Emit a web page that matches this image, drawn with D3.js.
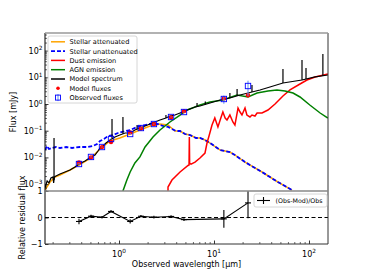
<!DOCTYPE html>
<html>
<head>
<meta charset="utf-8">
<script src="https://cdn.jsdelivr.net/npm/d3@7"></script>
<style>
  body { margin: 0; background: #fff; }
  text { font-family: "DejaVu Sans", sans-serif; fill: #000; }
</style>
</head>
<body>
<div id="chart"></div>
<script>
// ---- data (wavelength in micron, flux in mJy) ----
var specWl   = [0.166, 0.175, 0.183, 0.192, 0.202, 0.205, 0.209, 0.217, 0.239, 0.27, 0.305, 0.344, 0.379, 0.439, 0.507, 0.559, 0.601, 0.631, 0.662, 0.730, 0.804, 0.908, 1.02, 1.16, 1.31, 1.47, 1.66, 1.88, 2.12, 2.39, 2.70, 3.12, 3.44, 3.88, 4.39, 4.95, 5.59, 6.31, 7.12, 9.08, 11.6, 14.7, 18.8, 22.8, 30.5, 38.8, 53.2, 84.4, 116, 158];
var specFlux = [0.000714, 0.00131, 0.0011, 0.00169, 0.00185, 0.0011, 0.00185, 0.00201, 0.00239, 0.00284, 0.00337, 0.00437, 0.00566, 0.0073, 0.0104, 0.0123, 0.0174, 0.0225, 0.0245, 0.0346, 0.0449, 0.058, 0.069, 0.082, 0.082, 0.106, 0.126, 0.150, 0.178, 0.212, 0.252, 0.299, 0.355, 0.387, 0.46, 0.547, 0.65, 0.773, 0.841, 1.09, 1.41, 1.68, 2.17, 2.58, 3.35, 4.33, 6.12, 7.9, 10.3, 12.2];
// emission lines on the model spectrum: wavelength and peak flux
var lineWl   = [0.207, 0.844, 1.10, 1.55, 3.12, 6.63, 8.1, 14.7, 17.5, 25.1, 53.2, 84.4, 93.0, 140];
var linePeak = [0.0533, 0.274, 0.326, 0.163, 0.387, 1.09, 1.25, 2.58, 3.65, 5.15, 20.5, 44.5, 22.3, 74.6];

var attWl    = [0.166, 0.188, 0.212, 0.239, 0.305, 0.379, 0.507, 0.631, 0.804, 1.02, 1.31, 1.66, 2.12, 2.70, 3.28, 3.88, 4.39, 4.95, 5.59, 6.47, 7.12, 8.04, 9.08, 11.6, 14.7, 16.6, 21.2, 32.0, 47.0, 66.2];
var attFlux  = [0.000600, 0.0012, 0.00185, 0.00219, 0.00337, 0.00519, 0.0095, 0.0206, 0.0411, 0.0533, 0.0752, 0.106, 0.150, 0.178, 0.163, 0.0975, 0.0975, 0.0752, 0.069, 0.0533, 0.0533, 0.0449, 0.0346, 0.0189, 0.0159, 0.0123, 0.0067, 0.00284, 0.0012, 0.000600];

var unattWl   = [0.166, 0.175, 0.183, 0.197, 0.217, 0.239, 0.277, 0.320, 0.388, 0.472, 0.532, 0.587, 0.631, 0.695, 0.766, 0.865, 0.976, 1.16, 1.31, 1.55, 1.88, 2.28, 2.57, 2.90, 3.28, 3.61, 3.98, 4.39, 4.95, 5.59, 6.47, 7.12, 8.04, 9.08, 11.6, 14.7, 16.6, 21.2, 32.0, 47.0, 66.2];
var unattFlux = [0.0189, 0.0267, 0.0206, 0.0225, 0.0245, 0.0225, 0.0245, 0.0225, 0.0245, 0.0245, 0.0267, 0.0318, 0.0411, 0.0489, 0.0633, 0.069, 0.082, 0.0975, 0.106, 0.138, 0.163, 0.194, 0.178, 0.150, 0.138, 0.116, 0.0975, 0.0975, 0.0752, 0.069, 0.0533, 0.0533, 0.0449, 0.0346, 0.0189, 0.0159, 0.0123, 0.0067, 0.00284, 0.0012, 0.000600];

var dustWl   = [3.28, 3.28, 3.61, 4.39, 5.33, 5.46, 5.50, 5.54, 5.73, 6.31, 7.12, 8.04, 8.44, 8.86, 9.53, 10.2, 11.0, 11.8, 12.4, 13.1, 13.7, 14.7, 15.8, 16.6, 17.9, 18.8, 19.7, 21.2, 22.2, 23.9, 25.1, 27.0, 28.4, 32.0, 37.0, 43.9, 53.2, 63.1, 80.4, 95.2, 116, 158];
var dustFlux = [0.00039, 0.000778, 0.00142, 0.00284, 0.00500, 0.00519, 0.058, 0.00600, 0.00560, 0.0067, 0.0095, 0.0146, 0.0346, 0.0633, 0.163, 0.299, 0.138, 0.299, 0.501, 0.299, 0.252, 0.387, 0.212, 0.163, 0.708, 0.501, 0.387, 0.708, 0.387, 0.326, 0.387, 0.355, 0.46, 0.46, 0.596, 1.0, 1.99, 3.35, 5.61, 7.9, 10.3, 13.3];

var agnWl    = [1.08, 1.10, 1.21, 1.31, 1.47, 1.66, 1.88, 2.28, 2.70, 3.44, 4.39, 5.20, 6.31, 7.12, 9.08, 12.4, 17.5, 22.8, 28.4, 37.0, 46.0, 55.9, 67.9, 80.4, 102, 131, 158];
var agnFlux  = [0.0004, 0.000552, 0.00142, 0.00284, 0.00617, 0.0104, 0.0245, 0.058, 0.106, 0.212, 0.387, 0.596, 0.773, 0.918, 1.19, 1.41, 2.17, 1.83, 2.58, 3.07, 3.35, 3.07, 2.58, 1.83, 0.918, 0.46, 0.299];

// photometry
var obsWl    = [0.379, 0.507, 0.662, 0.824, 1.31, 1.70, 2.33, 3.53, 4.83, 12.7, 22.8];
var obsFlux  = [0.00566, 0.0104, 0.0245, 0.0489, 0.0752, 0.126, 0.178, 0.326, 0.501, 1.54, 4.72];
var obsErr   = [0.0006, 0.0006, 0.0012, 0.0025, 0.006, 0.006, 0.009, 0.016, 0.025, 0.52, 2.74];
var modFlux  = [0.00651, 0.00988, 0.0243, 0.0377, 0.0865, 0.120, 0.176, 0.313, 0.541, 1.62, 2.12];

var legendLabels = ["Stellar attenuated", "Stellar unattenuated", "Dust emission", "AGN emission", "Model spectrum", "Model fluxes", "Observed fluxes"];
var xTicks = [1, 10, 100];
var yTicks = [1e-3, 1e-2, 1e-1, 1, 10, 100];
var rTicks = [-1, 0, 1];

// ---- layout ----
var W = 365, H = 274;
var L = 45, R = 328, T = 33, MB = 191, RB = 244;

var svg = d3.select("#chart").append("svg")
    .attr("width", W).attr("height", H);

var x = d3.scaleLog().domain([0.1663, 158.5]).range([L, R]);
var y = d3.scaleLog().domain([0.000552, 456]).range([MB, T]);
var yr = d3.scaleLinear().domain([-1, 1]).range([RB, MB]);

svg.append("clipPath").attr("id", "cm").append("rect")
    .attr("x", L).attr("y", T).attr("width", R - L).attr("height", MB - T);
svg.append("clipPath").attr("id", "cr").append("rect")
    .attr("x", L).attr("y", MB).attr("width", R - L).attr("height", RB - MB);

var zip = function (a, b) { return a.map(function (v, i) { return [v, b[i]]; }); };
var line = d3.line().x(function (d) { return x(d[0]); }).y(function (d) { return y(d[1]); });

// continuum value under an emission line (log interpolation of the spectrum)
function contAt(w) {
    for (var i = 1; i < specWl.length; i++) {
        if (specWl[i] >= w) {
            var t = (Math.log(w) - Math.log(specWl[i - 1])) / (Math.log(specWl[i]) - Math.log(specWl[i - 1]));
            return Math.exp(Math.log(specFlux[i - 1]) + t * (Math.log(specFlux[i]) - Math.log(specFlux[i - 1])));
        }
    }
    return specFlux[specFlux.length - 1];
}

var gm = svg.append("g").attr("clip-path", "url(#cm)");

gm.append("path").datum(zip(attWl, attFlux))
    .attr("d", line).attr("fill", "none").attr("stroke", "orange").attr("stroke-width", 1.5);
gm.append("path").datum(zip(unattWl, unattFlux))
    .attr("d", line).attr("fill", "none").attr("stroke", "blue").attr("stroke-width", 1.8)
    .attr("stroke-dasharray", "4,2");
gm.append("path").datum(zip(dustWl, dustFlux))
    .attr("d", line).attr("fill", "none").attr("stroke", "red").attr("stroke-width", 1.5);
gm.append("path").datum(zip(agnWl, agnFlux))
    .attr("d", line).attr("fill", "none").attr("stroke", "green").attr("stroke-width", 1.5);
gm.append("path").datum(zip(specWl, specFlux))
    .attr("d", line).attr("fill", "none").attr("stroke", "black").attr("stroke-width", 1.2);
gm.selectAll(".eline").data(zip(lineWl, linePeak)).enter().append("line")
    .attr("x1", function (d) { return x(d[0]); }).attr("x2", function (d) { return x(d[0]); })
    .attr("y1", function (d) { return y(contAt(d[0])); }).attr("y2", function (d) { return y(d[1]); })
    .attr("stroke", "black").attr("stroke-width", 1.2);

// model fluxes
gm.selectAll(".mod").data(zip(obsWl, modFlux)).enter().append("circle")
    .attr("cx", function (d) { return x(d[0]); }).attr("cy", function (d) { return y(d[1]); })
    .attr("r", 2.2).attr("fill", "red");

// observed fluxes
var obs = obsWl.map(function (w, i) { return { w: w, f: obsFlux[i], e: obsErr[i], m: modFlux[i] }; });
gm.selectAll(".oerr").data(obs).enter().append("line")
    .attr("x1", function (d) { return x(d.w); }).attr("x2", function (d) { return x(d.w); })
    .attr("y1", function (d) { return y(Math.max(d.f - d.e, 1e-6)); }).attr("y2", function (d) { return y(d.f + d.e); })
    .attr("stroke", "#5b8ff0").attr("stroke-width", 1);
gm.selectAll(".obs").data(obs).enter().append("rect")
    .attr("x", function (d) { return x(d.w) - 2.7; }).attr("y", function (d) { return y(d.f) - 2.7; })
    .attr("width", 5.4).attr("height", 5.4)
    .attr("fill", "none").attr("stroke", "blue").attr("stroke-width", 0.9);

// ---- residual panel ----
var gr = svg.append("g").attr("clip-path", "url(#cr)");
gr.append("line").attr("x1", L).attr("x2", R).attr("y1", yr(0)).attr("y2", yr(0))
    .attr("stroke", "black").attr("stroke-width", 1.2).attr("stroke-dasharray", "4,2.5");
var res = obs.map(function (d) { return { w: d.w, r: (d.f - d.m) / d.f, e: d.e / d.f }; });
gr.append("path").datum(res)
    .attr("d", d3.line().x(function (d) { return x(d.w); }).y(function (d) { return yr(d.r); }))
    .attr("fill", "none").attr("stroke", "black").attr("stroke-width", 1.1);
gr.selectAll(".rerr").data(res).enter().append("line")
    .attr("x1", function (d) { return x(d.w); }).attr("x2", function (d) { return x(d.w); })
    .attr("y1", function (d) { return yr(d.r - d.e); }).attr("y2", function (d) { return yr(d.r + d.e); })
    .attr("stroke", "black").attr("stroke-width", 1.1);
gr.selectAll(".rplus").data(res).enter().append("line")
    .attr("x1", function (d) { return x(d.w) - 3; }).attr("x2", function (d) { return x(d.w) + 3; })
    .attr("y1", function (d) { return yr(d.r); }).attr("y2", function (d) { return yr(d.r); })
    .attr("stroke", "black").attr("stroke-width", 1.1);

// ---- axes (ticks point inward) ----
function sup(sel, base, exp) {
    sel.append("tspan").text(base);
    sel.append("tspan").attr("dy", -3.5).attr("font-size", "5.8px").text(exp);
}
var fmtExp = function (v) { var e = Math.round(Math.log10(v)); return e < 0 ? "\u2212" + (-e) : "" + e; };
var isMajor = function (list) {
    return function (d) { return list.some(function (t) { return Math.abs(t - d) / Math.abs(t || 1) < 1e-6; }); };
};

var yAll = d3.range(-4, 3).flatMap(function (e) {
    return d3.range(1, 10).map(function (k) { return k * Math.pow(10, e); });
}).filter(function (v) { return v >= 0.000552 && v <= 456; });
var gy = svg.append("g").attr("transform", "translate(" + L + ",0)")
    .call(d3.axisRight(y).tickValues(yAll).tickFormat("").tickSize(2));
gy.select(".domain").remove();
gy.selectAll(".tick line").attr("stroke", "#000").attr("stroke-width", 0.6);
gy.selectAll(".tick").filter(isMajor(yTicks)).select("line").attr("x2", 3.5).attr("stroke-width", 0.8);
yTicks.forEach(function (v) {
    var t = svg.append("text").attr("x", L - 2.5).attr("y", y(v) + 3).attr("font-size", "8px")
        .attr("text-anchor", "end");
    sup(t, "10", fmtExp(v));
});

var xAll = d3.range(-1, 3).flatMap(function (e) {
    return d3.range(1, 10).map(function (k) { return k * Math.pow(10, e); });
}).filter(function (v) { return v >= 0.1663 && v <= 158.5; });
var gx = svg.append("g").attr("transform", "translate(0," + RB + ")")
    .call(d3.axisTop(x).tickValues(xAll).tickFormat("").tickSize(2));
gx.select(".domain").remove();
gx.selectAll(".tick line").attr("stroke", "#000").attr("stroke-width", 0.6);
gx.selectAll(".tick").filter(isMajor(xTicks)).select("line").attr("y2", -3.5).attr("stroke-width", 0.8);
xTicks.forEach(function (v) {
    var t = svg.append("text").attr("x", x(v)).attr("y", RB + 12.5).attr("font-size", "8px").attr("text-anchor", "middle");
    sup(t, "10", fmtExp(v));
});

var gry = svg.append("g").attr("transform", "translate(" + L + ",0)")
    .call(d3.axisRight(yr).tickValues(rTicks).tickFormat("").tickSize(3.5));
gry.select(".domain").remove();
gry.selectAll(".tick line").attr("stroke", "#000").attr("stroke-width", 0.8);
rTicks.forEach(function (v) {
    svg.append("text").attr("x", L - 2.5).attr("y", yr(v) + 3).attr("font-size", "8px")
        .attr("text-anchor", "end").text(v < 0 ? "\u2212" + (-v) : v);
});

// frames
svg.append("line").attr("x1", L).attr("x2", L).attr("y1", T).attr("y2", RB).attr("stroke", "#000").attr("stroke-width", 1);
svg.append("line").attr("x1", R).attr("x2", R).attr("y1", T).attr("y2", RB).attr("stroke", "#333").attr("stroke-width", 1);
svg.append("line").attr("x1", L).attr("x2", R).attr("y1", RB).attr("y2", RB).attr("stroke", "#333").attr("stroke-width", 1);
svg.append("line").attr("x1", L).attr("x2", R).attr("y1", T).attr("y2", T).attr("stroke", "#999").attr("stroke-width", 1.5);
svg.append("line").attr("x1", L).attr("x2", R).attr("y1", MB).attr("y2", MB).attr("stroke", "#888").attr("stroke-width", 1.3);

// labels
svg.append("text").attr("transform", "translate(16," + ((T + MB) / 2) + ") rotate(-90)")
    .attr("text-anchor", "middle").attr("font-size", "8px").text("Flux [mJy]");
svg.append("text").attr("transform", "translate(25," + ((MB + RB) / 2) + ") rotate(-90)")
    .attr("text-anchor", "middle").attr("font-size", "8px").text("Relative residual flux");
svg.append("text").attr("x", (L + R) / 2).attr("y", 267).attr("text-anchor", "middle")
    .attr("font-size", "8px").text("Observed wavelength [\u03bcm]");

// ---- legend (main) ----
var lg = svg.append("g").attr("transform", "translate(48,36)");
lg.append("rect").attr("width", 89).attr("height", 67).attr("rx", 2)
    .attr("fill", "#fff").attr("fill-opacity", 0.8).attr("stroke", "#ccc").attr("stroke-width", 0.8);
legendLabels.forEach(function (lab, i) {
    var yy = 5.8 + i * 9.3;
    var g = lg.append("g");
    if (i < 5) {
        var st = ["orange", "blue", "red", "green", "black"][i];
        g.append("line").attr("x1", 3).attr("x2", 17).attr("y1", yy).attr("y2", yy)
            .attr("stroke", st).attr("stroke-width", i === 1 ? 1.8 : 1.5)
            .attr("stroke-dasharray", i === 1 ? "4,2" : null);
    } else if (i === 5) {
        g.append("circle").attr("cx", 10).attr("cy", yy).attr("r", 1.8).attr("fill", "red");
    } else {
        g.append("line").attr("x1", 10).attr("x2", 10).attr("y1", yy - 3.5).attr("y2", yy + 3.5)
            .attr("stroke", "#5b8ff0").attr("stroke-width", 1);
        g.append("rect").attr("x", 7.5).attr("y", yy - 2.5).attr("width", 5).attr("height", 5)
            .attr("fill", "none").attr("stroke", "blue").attr("stroke-width", 0.9);
    }
    g.append("text").attr("x", 21.5).attr("y", yy + 2.4).attr("font-size", "6.6px").text(lab);
});

// ---- legend (residual) ----
var lr = svg.append("g").attr("transform", "translate(254,194)");
lr.append("rect").attr("width", 73).attr("height", 13).attr("rx", 2)
    .attr("fill", "#fff").attr("stroke", "#ccc").attr("stroke-width", 0.8);
lr.append("line").attr("x1", 3).attr("x2", 16).attr("y1", 6.5).attr("y2", 6.5).attr("stroke", "black").attr("stroke-width", 1.1);
lr.append("line").attr("x1", 9.5).attr("x2", 9.5).attr("y1", 3).attr("y2", 10).attr("stroke", "black").attr("stroke-width", 1.1);
lr.append("text").attr("x", 21.5).attr("y", 8.8).attr("font-size", "6.3px").text("(Obs-Mod)/Obs");
</script>
</body>
</html>
